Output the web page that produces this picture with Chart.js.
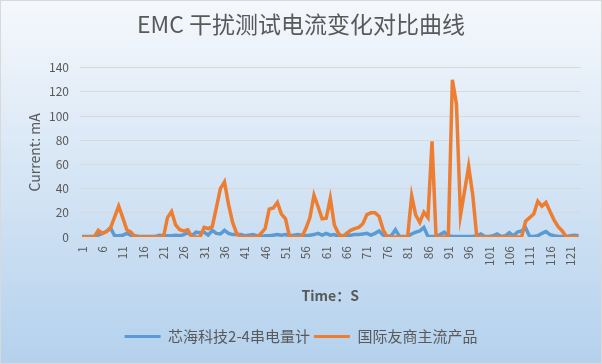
<!DOCTYPE html>
<html>
<head>
<meta charset="utf-8">
<title>EMC 干扰测试电流变化对比曲线</title>
<script src="https://cdn.jsdelivr.net/npm/chart.js@4.4.1/dist/chart.umd.min.js"></script>
<style>
  html, body { margin: 0; padding: 0; background: #ffffff; }
  #wrap { width: 602px; height: 364px; }
</style>
</head>
<body>
<div id="wrap"><canvas id="emcChart" width="602" height="364"></canvas></div>
<script>
// Tempo em segundos (1..123), rótulo a cada 5 pontos
const tempos = Array.from({ length: 123 }, (_, i) => String(i + 1));
const passoRotulo = 5;

// 芯海科技2-4串电量计 (mA)
const correnteChipsea = [
  0.5, 0.5, 0.5, 0.5, 1.5, 3, 4.5, 7.5, 1, 1,
  1.5, 3, 1.5, 1, 0.5, 0.5, 0.5, 0.5, 0.5, 1.5,
  1, 1, 1, 1.5, 1, 2, 3.5, 1, 4, 3.5,
  4, 1.5, 5.5, 3, 2.5, 5.5, 3, 2, 2, 2,
  1, 1.5, 2, 1, 0.5, 1, 1, 1.5, 2, 1.5,
  2, 1, 1.5, 2, 1.5, 1, 1.5, 2, 3, 1.5,
  3, 1.5, 2, 0.5, 1, 1.5, 1.5, 2, 2, 2.5,
  3, 1.5, 3, 5, 1.5, 0.5, 1, 6, 0.5, 0.5,
  0.5, 2.5, 4, 5, 8, 0.5, 0.5, 0.5, 2, 4,
  1, 0.5, 0.5, 0.5, 0.5, 0.5, 0.5, 1, 2.5, 0.5,
  0.5, 1, 2.5, 0.5, 1, 3.5, 1, 4, 5, 7.5,
  0.5, 0.5, 1, 3, 4.5, 2, 1, 0.5, 0.5, 0.5,
  1, 1.5, 1,
];

// 国际友商主流产品 (mA)
const correnteConcorrente = [
  0, 0, 0, 0, 5.5, 3, 4.5, 7.5, 16.5, 25.5,
  16, 6, 4, 0, 0, 0, 0, 0, 0, 0,
  0, 16, 21, 10, 6, 5, 6, 0, 0, 0,
  8, 7, 8.5, 24, 40, 45.5, 27, 12, 3, 0,
  0, 0, 0, 0, 3, 7, 23, 24, 28.5, 19,
  15, 0, 0, 0, 0, 7, 16, 34.5, 25, 15,
  15.5, 32, 10, 3, 0, 3, 5.5, 7, 8, 11,
  18.5, 20, 20, 17, 6, 0, 0, 0, 0, 0,
  0, 34, 18, 12, 20.5, 16, 79, 0, 0, 0,
  0, 130, 110, 18, 38, 58.5, 35, 0, 0, 0,
  0, 0, 0, 0, 0, 0, 0, 0, 0, 13,
  16, 19, 29.5, 25.5, 28.5, 21, 14, 8.5, 5, 0,
  0, 0, 0,
];

const CINZA = '#595959';
const FONTE = "'Noto Sans CJK SC', 'Noto Sans', sans-serif";

Chart.defaults.font.family = FONTE;
Chart.defaults.color = CINZA;

// Fundo em degradê com borda fina, como no gráfico original
const fundoPlugin = {
  id: 'fundo',
  beforeDraw(chart) {
    const { ctx, width, height } = chart;
    const grad = ctx.createLinearGradient(0, 0, 0, height);
    grad.addColorStop(0, '#f5f8fc');
    grad.addColorStop(1, '#b4d1ed');
    ctx.save();
    ctx.fillStyle = grad;
    ctx.fillRect(0, 0, width, height);
    ctx.strokeStyle = '#d9d9d9';
    ctx.lineWidth = 1;
    ctx.strokeRect(0.5, 0.5, width - 1, height - 1);
    ctx.restore();
  },
};

new Chart(document.getElementById('emcChart').getContext('2d'), {
  type: 'line',
  data: {
    labels: tempos,
    datasets: [
      {
        label: '芯海科技2-4串电量计',
        data: correnteChipsea,
        borderColor: '#5b9bd5',
        backgroundColor: '#5b9bd5',
        borderWidth: 3.5,
        pointRadius: 0,
        tension: 0,
        order: 1,
      },
      {
        label: '国际友商主流产品',
        data: correnteConcorrente,
        borderColor: '#ed7d31',
        backgroundColor: '#ed7d31',
        borderWidth: 3.5,
        pointRadius: 0,
        tension: 0,
        order: 0,
      },
    ],
  },
  options: {
    responsive: false,
    animation: false,
    layout: { padding: { top: 0, right: 0, bottom: 10, left: 0 } },
    plugins: {
      title: {
        display: true,
        text: 'EMC 干扰测试电流变化对比曲线',
        color: CINZA,
        font: { size: 23, weight: 'normal' },
        padding: { top: 10, bottom: 30 },
      },
      legend: {
        position: 'bottom',
        labels: {
          boxWidth: 36,
          boxHeight: 3,
          padding: 4,
          color: CINZA,
          font: { size: 15 },
          sort: (a, b) => a.datasetIndex - b.datasetIndex,
          generateLabels: (chart) =>
            Chart.defaults.plugins.legend.labels
              .generateLabels(chart)
              .map((item) => ({ ...item, lineWidth: 0 })),
        },
      },
      tooltip: { enabled: false },
    },
    scales: {
      x: {
        offset: true,
        grid: { display: false, drawTicks: false },
        border: { display: true, color: '#d9d9d9', width: 1 },
        ticks: {
          autoSkip: false,
          minRotation: 90,
          maxRotation: 90,
          padding: 9,
          color: CINZA,
          font: { size: 12 },
          callback: (value, index) => (index % passoRotulo === 0 ? tempos[index] : ''),
        },
        title: {
          display: true,
          text: 'Time：S',
          color: CINZA,
          font: { size: 14, weight: 'bold' },
          padding: { top: 0, bottom: 21 },
        },
        afterFit: (scale) => {
          scale.height = 88;
        },
      },
      y: {
        min: 0,
        max: 140,
        grid: { color: '#d9d9d9', drawTicks: false },
        border: { display: false },
        ticks: {
          stepSize: 20,
          padding: 11,
          color: CINZA,
          font: { size: 12 },
        },
        title: {
          display: true,
          text: 'Current: mA',
          color: CINZA,
          font: { size: 14 },
          padding: { top: 26, bottom: 0 },
        },
        afterFit: (scale) => {
          scale.width = 80;
        },
      },
      // margem direita vazia, só para reservar espaço
      margemDireita: {
        position: 'right',
        display: true,
        grid: { display: false, drawTicks: false },
        border: { display: false },
        ticks: { display: false },
        afterFit: (scale) => {
          scale.width = 19;
        },
      },
    },
  },
  plugins: [fundoPlugin],
});
</script>
</body>
</html>
